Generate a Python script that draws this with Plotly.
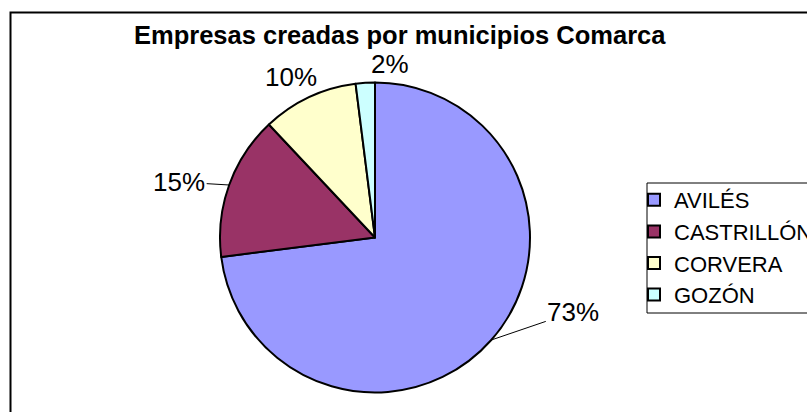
import math
import plotly.graph_objects as go

# ---- data ----
categories = ["AVILÉS", "CASTRILLÓN", "CORVERA", "GOZÓN"]
values = [73, 15, 10, 2]
title_text = "Empresas creadas por municipios Comarca"

# ---- style ----
colors = ["#9999FF", "#993366", "#FFFFCC", "#CCFFFF"]
W, H = 807, 412
CX, CY, R = 375, 237.5, 155          # pie centre / radius in px
label_offsets = [(82, -28), (-50, -3), (-18, -20), (25, -19)]  # px offsets of labels
show_leader = [True, True, False, False]
FONT = "Liberation Sans, Arial, sans-serif"

fig = go.Figure(go.Pie(
    labels=categories, values=values, sort=False,
    direction="clockwise", rotation=0,
    marker=dict(colors=colors, line=dict(color="black", width=2)),
    textinfo="none", hoverinfo="label+percent",
    domain=dict(x=[(CX - R) / W, (CX + R) / W],
                y=[1 - (CY + R) / H, 1 - (CY - R) / H]),
))

total = sum(values)
cum = 0
for v, (dx, dy), lead in zip(values, label_offsets, show_leader):
    mid = (cum + v / 2) / total * 2 * math.pi
    cum += v
    ex = CX + R * math.sin(mid)
    ey = CY - R * math.cos(mid)
    fig.add_annotation(
        x=ex / W, y=1 - ey / H, xref="paper", yref="paper",
        text=f"{round(100 * v / total)}%",
        showarrow=True, arrowhead=0, arrowwidth=1,
        arrowcolor="black" if lead else "rgba(0,0,0,0)",
        ax=dx, ay=dy,
        font=dict(family=FONT, size=26, color="black"),
    )

fig.add_annotation(
    x=400 / W, y=1 - 35 / H, xref="paper", yref="paper",
    text=f"<b>{title_text}</b>", showarrow=False,
    xanchor="center", yanchor="middle",
    font=dict(family=FONT, size=25.5, color="black"),
)

# chart frame and legend box
fig.add_shape(type="rect", xref="paper", yref="paper",
              x0=10.5 / W, x1=1.05, y0=-0.05, y1=1 - 12.5 / H,
              line=dict(color="black", width=2))
fig.add_shape(type="rect", xref="paper", yref="paper",
              x0=647 / W, x1=1.05, y0=1 - 313 / H, y1=1 - 183 / H,
              line=dict(color="black", width=1))

fig.update_layout(
    width=W, height=H,
    margin=dict(l=0, r=0, t=0, b=0, autoexpand=False),
    paper_bgcolor="white", plot_bgcolor="white",
    showlegend=True,
    legend=dict(x=634 / W, y=1 - 179 / H, xanchor="left", yanchor="top",
                font=dict(family=FONT, size=22, color="black"),
                bgcolor="rgba(0,0,0,0)", borderwidth=0),
    font=dict(family=FONT),
)

fig.write_html(
    "out.html",
    config={"displayModeBar": False},
    post_script="document.body.style.margin='0';document.body.style.overflow='hidden';",
)
